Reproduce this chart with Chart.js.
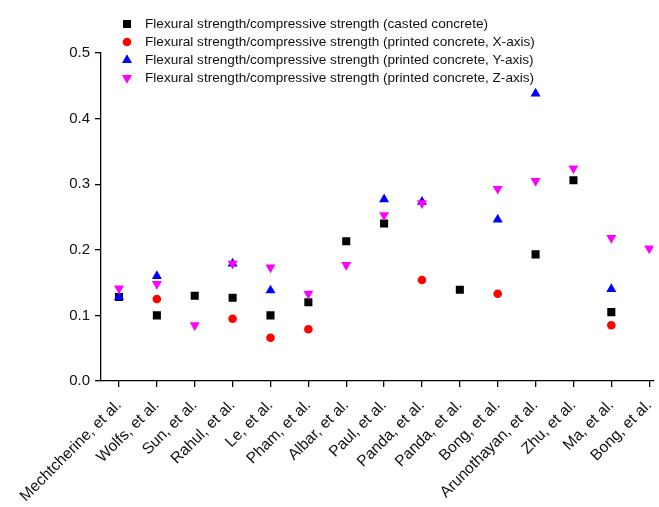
<!DOCTYPE html>
<html>
<head>
<meta charset="utf-8">
<script src="https://cdn.jsdelivr.net/npm/chart.js@4.4.0/dist/chart.umd.min.js"></script>
<style>
  body { margin: 0; background: #fff; }
  canvas { display: block; }
</style>
</head>
<body>
<canvas id="chart" width="659" height="507"></canvas>
<script>
// categories (studies) along the x axis
const studies = ['Mechtcherine, et al.', 'Wolfs, et al.', 'Sun, et al.', 'Rahul, et al.', 'Le, et al.',
  'Pham, et al.', 'Albar, et al.', 'Paul, et al.', 'Panda, et al.', 'Panda, et al.', 'Bong, et al.',
  'Arunothayan, et al.', 'Zhu, et al.', 'Ma, et al.', 'Bong, et al.'];

// flexural / compressive strength ratio, null where not reported
const casted =  [0.128, 0.100, 0.130, 0.127, 0.100, 0.120, 0.213, 0.240, null, 0.139, null, 0.193, 0.306, 0.105, null];
const printedX = [null, 0.125, null, 0.095, 0.066, 0.079, null, null, 0.154, null, 0.133, null, null, 0.085, null];
const printedY = [0.128, 0.160, null, 0.179, 0.138, null, null, 0.277, 0.273, null, 0.246, 0.438, null, 0.140, null];
const printedZ = [0.141, 0.148, 0.085, 0.179, 0.173, 0.133, 0.177, 0.253, 0.271, null, 0.293, 0.305, 0.324, 0.218, 0.202];

const yTicks = [0, 0.1, 0.2, 0.3, 0.4, 0.5];

const seriesLabels = [
  'Flexural strength/compressive strength (casted concrete)',
  'Flexural strength/compressive strength (printed concrete, X-axis)',
  'Flexural strength/compressive strength (printed concrete, Y-axis)',
  'Flexural strength/compressive strength (printed concrete, Z-axis)'
];

function toPoints(arr) {
  const pts = [];
  arr.forEach((v, i) => { if (v !== null) pts.push({ x: i, y: v }); });
  return pts;
}

const FONT = 'Arial, "Liberation Sans", sans-serif';

const styles = [
  { color: '#000000', pointStyle: 'rect', radius: 5.7, rotation: 0 },
  { color: '#ff0000', pointStyle: 'circle', radius: 4.3, rotation: 0 },
  { color: '#0000ff', pointStyle: 'triangle', radius: 5.8, rotation: 0 },
  { color: '#ff00ff', pointStyle: 'triangle', radius: 5.8, rotation: 180 }
];

const seriesData = [casted, printedX, printedY, printedZ];

const datasets = seriesData.map((arr, k) => ({
  label: seriesLabels[k],
  data: toPoints(arr),
  showLine: false,
  pointStyle: styles[k].pointStyle,
  pointRadius: styles[k].radius,
  pointRotation: styles[k].rotation,
  pointBackgroundColor: styles[k].color,
  pointBorderColor: styles[k].color,
  pointBorderWidth: 0,
  order: 4 - k
}));

// legend drawn inside the plot area, like the original figure
const innerLegend = {
  id: 'innerLegend',
  afterDraw(chart) {
    const ctx = chart.ctx;
    ctx.save();
    ctx.font = '13.6px ' + FONT;
    ctx.textBaseline = 'middle';
    ctx.textAlign = 'left';
    seriesLabels.forEach((txt, k) => {
      const y = 24 + k * 18;
      ctx.fillStyle = styles[k].color;
      ctx.strokeStyle = styles[k].color;
      ctx.lineWidth = 0;
      Chart.helpers.drawPoint(ctx, {
        pointStyle: styles[k].pointStyle,
        radius: styles[k].radius,
        rotation: styles[k].rotation,
        borderWidth: 0
      }, 127, y);
      ctx.fillStyle = '#111';
      ctx.fillText(txt, 145, y);
    });
    ctx.restore();
  }
};

new Chart(document.getElementById('chart'), {
  type: 'scatter',
  data: { datasets: datasets },
  options: {
    responsive: false,
    animation: false,
    layout: { padding: { top: 53, right: 0, left: 0, bottom: 0 } },
    plugins: { legend: { display: false }, tooltip: { enabled: false } },
    scales: {
      x: {
        type: 'linear',
        min: -0.4755,
        max: 14.106,
        afterBuildTicks: (scale) => { scale.ticks = studies.map((s, i) => ({ value: i })); },
        afterFit: (scale) => {
          scale.height = 126;
          scale.paddingLeft = 0;
          scale.paddingRight = 0;
        },
        grid: { drawOnChartArea: false, drawTicks: true, tickLength: 6, color: '#000', lineWidth: 1.3 },
        border: { display: true, color: '#000', width: 1.3 },
        ticks: {
          minRotation: 45,
          maxRotation: 45,
          color: '#111',
          font: { family: FONT, size: 15.6 },
          padding: 9,
          callback: (v) => studies[v]
        }
      },
      y: {
        min: 0,
        max: 0.5,
        afterBuildTicks: (scale) => { scale.ticks = yTicks.map(v => ({ value: v })); },
        afterFit: (scale) => { scale.width = 101; },
        grid: { drawOnChartArea: false, drawTicks: true, tickLength: 6, color: '#000', lineWidth: 1.3 },
        border: { display: true, color: '#000', width: 1.3 },
        ticks: {
          color: '#111',
          font: { family: FONT, size: 15 },
          padding: 5,
          callback: (v) => v.toFixed(1)
        }
      }
    }
  },
  plugins: [innerLegend]
});
</script>
</body>
</html>
